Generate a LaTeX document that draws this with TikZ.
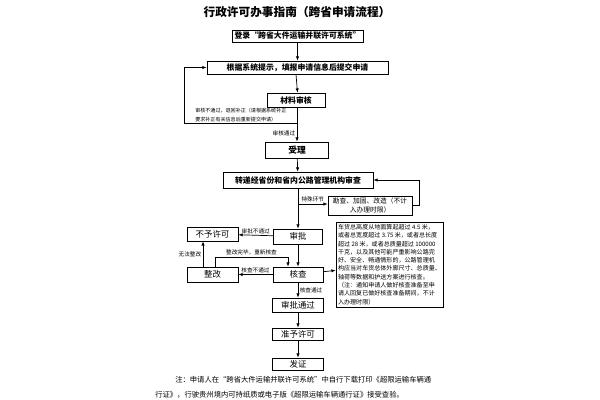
\documentclass[tikz,border=0pt]{standalone}
\usepackage{fontspec}
\setmainfont{Noto Sans CJK SC}
\usetikzlibrary{arrows.meta}

\begin{document}
\begin{tikzpicture}[x=0.025cm,y=-0.025cm,
  box/.style={draw,line width=0.5pt,inner sep=0pt,align=center},
  bbox/.style={box,font=\bfseries\fontsize{5.6}{6}\selectfont},
  pbox/.style={box,font=\fontsize{6}{7}\selectfont},
  lbl/.style={font=\fontsize{4}{4.5}\selectfont,inner sep=1pt},
  arr/.style={line width=0.5pt,-{Latex[length=3pt,width=2.4pt]}}]
  \useasboundingbox (0,0) rectangle (600,400);

  \node[font=\bfseries\fontsize{8.3}{10}\selectfont] (title) at (297,12) {行政许可办事指南（跨省申请流程）};
  \node[bbox,minimum width=32.75mm,minimum height=3mm] (login) at (297.5,36) {登录“跨省大件运输并联许可系统”};
  \node[bbox,minimum width=45.25mm,minimum height=3.25mm] (fill) at (297.5,67.5) {根据系统提示，填报申请信息后提交申请};
  \node[bbox,minimum width=14.5mm,minimum height=3.5mm] (review) at (296,100) {材料审核};
  \node[bbox,font=\bfseries\fontsize{6.2}{7}\selectfont,minimum width=15.75mm,minimum height=4mm] (accept) at (297,150) {受理};
  \node[bbox,minimum width=37.5mm,minimum height=4mm] (transfer) at (298,180) {转递经省份和省内公路管理机构审查};
  \node[box,font=\fontsize{4.8}{6.4}\selectfont,minimum width=21mm,minimum height=4.75mm] (survey) at (370,205.5) {勘查、加固、改造（不计\\入办理时限）};
  \node[pbox,minimum width=12.25mm,minimum height=3.75mm] (approve) at (298,236.5) {审批};
  \node[pbox,minimum width=12.75mm,minimum height=3.5mm] (deny) at (212.5,234) {不予许可};
  \node[pbox,minimum width=12.75mm,minimum height=3.75mm] (rectify) at (212.5,274.5) {整改};
  \node[pbox,minimum width=12.5mm,minimum height=3.75mm] (check) at (298,274.5) {核查};
  \node[pbox,minimum width=12.75mm,minimum height=3.5mm] (passed) at (298,305) {审批通过};
  \node[pbox,minimum width=12.75mm,minimum height=3mm] (grant) at (298,334) {准予许可};
  \node[pbox,minimum width=12.75mm,minimum height=3mm] (issue) at (298,364) {发证};
  \node[box,font=\fontsize{4.3}{5.9}\selectfont,align=left,minimum width=26.75mm,minimum height=21.25mm] (rule) at (389.5,264.5)
    {车货总高度从地面算起超过 4.5 米，\\或者总宽度超过 3.75 米，或者总长度\\超过 28 米，或者总质量超过 100000\\千克，以及其他可能严重影响公路完\\好、安全、畅通情形的，公路管理机\\构应当对车货总体外廓尺寸、总质量、\\轴荷等数据和护送方案进行核查。\\（注：通知申请人做好核查准备至申\\请人回复已做好核查准备期间，不计\\入办理时限）};
  \node[font=\fontsize{3.6}{6.4}\selectfont,align=left,anchor=west,inner sep=0pt] (back) at (195,115.5) {审核不通过，退回补正（请根据系统补正\\要求补正有关信息后重新提交申请）};
  \node[font=\fontsize{5.2}{6}\selectfont,anchor=west,inner sep=0pt] (note1) at (175,380) {注：申请人在“跨省大件运输并联许可系统”中自行下载打印《超限运输车辆通};
  \node[font=\fontsize{5.2}{6}\selectfont,anchor=west,inner sep=0pt] (note2) at (155,395) {行证》，行驶贵州境内可持纸质或电子版《超限运输车辆通行证》接受查验。};

  \coordinate (backA) at (298,123);
  \coordinate (backB) at (184,123);
  \coordinate (special) at (298,204);
  \coordinate (fixA) at (215,257);
  \coordinate (fixB) at (288,257);

  \draw[arr] (login) -- (fill);
  \draw[arr] (fill.south -| review.north) -- (review.north -| fill.south);
  \draw[arr] (review.south -| accept.north) -- node[lbl,left,pos=0.75] {审核通过} (accept);
  \draw[arr] (backA) -- (backB) |- (fill.west);
  \draw[arr] (accept) -- (transfer);
  \draw[arr] (transfer) -- (approve);
  \draw[arr] (special) -- node[lbl,above] {特殊环节} (survey.west |- special);
  \draw[arr] (survey.east) -- ++(7,0) |- (transfer.east);
  \draw[arr] (approve) -- node[lbl,above] {审批不通过} (deny);
  \draw[arr] (approve) -- (check);
  \draw[arr] (check) -- node[lbl,above] {核查不通过} (rectify);
  \draw[arr] (rectify.north -| 203,0) -- node[lbl,left] {无法整改} (deny.south -| 203,0);
  \draw[arr] (rectify.north -| fixA) -- (fixA) -- node[lbl,above] {整改完毕，重新核查} (fixB) -- (check.north -| fixB);
  \draw[arr] (check) -- (rule);
  \draw[arr] (check) -- node[lbl,right] {核查通过} (passed);
  \draw[arr] (passed) -- (grant);
  \draw[arr] (grant) -- (issue);
\end{tikzpicture}
\end{document}
